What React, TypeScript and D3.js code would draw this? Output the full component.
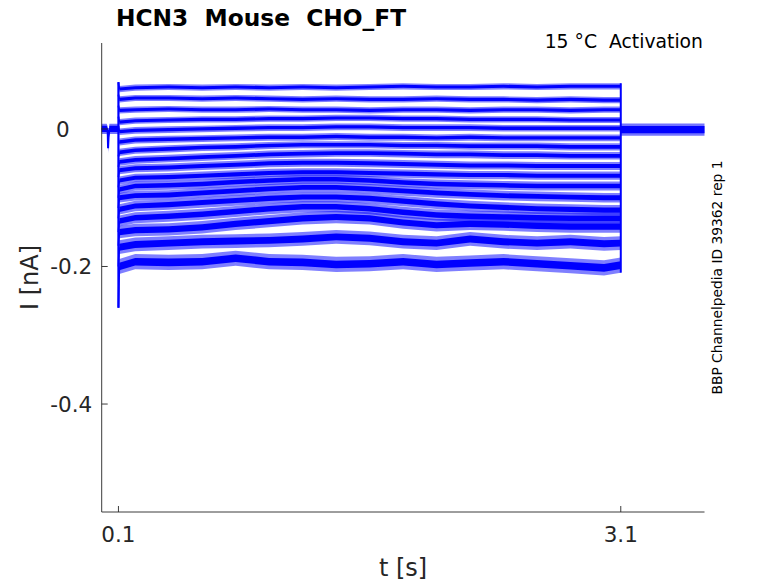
import React from 'react';
import * as d3 from 'd3';

// time knots of the voltage-step section (s)
const stepTimes = [0.105, 0.2, 0.4, 0.6, 0.8, 1.0, 1.2, 1.4, 1.6, 1.8, 2.0, 2.2, 2.4, 2.6, 2.8, 3.0, 3.1];

// current traces during the step (nA), top to bottom
const trace01 = [0.058, 0.060, 0.061, 0.060, 0.061, 0.060, 0.061, 0.060, 0.061, 0.062, 0.061, 0.061, 0.062, 0.061, 0.062, 0.062, 0.062];
const trace02 = [0.043, 0.045, 0.045, 0.044, 0.045, 0.044, 0.043, 0.044, 0.043, 0.043, 0.044, 0.043, 0.043, 0.042, 0.043, 0.042, 0.042];
const trace03 = [0.027, 0.028, 0.029, 0.028, 0.028, 0.029, 0.028, 0.028, 0.027, 0.028, 0.028, 0.027, 0.028, 0.028, 0.027, 0.028, 0.028];
const trace04 = [0.010, 0.012, 0.013, 0.014, 0.014, 0.015, 0.015, 0.016, 0.016, 0.015, 0.015, 0.014, 0.014, 0.014, 0.013, 0.013, 0.013];
const trace05 = [-0.004, -0.002, -0.001, 0.000, 0.001, 0.002, 0.002, 0.003, 0.003, 0.002, 0.002, 0.002, 0.001, 0.001, 0.001, 0.001, 0.001];
const trace06 = [-0.019, -0.016, -0.015, -0.014, -0.013, -0.012, -0.012, -0.011, -0.012, -0.012, -0.013, -0.012, -0.013, -0.013, -0.013, -0.013, -0.013];
const trace07 = [-0.034, -0.031, -0.029, -0.027, -0.026, -0.024, -0.023, -0.023, -0.023, -0.024, -0.024, -0.025, -0.025, -0.025, -0.026, -0.026, -0.026];
const trace08 = [-0.048, -0.045, -0.043, -0.041, -0.039, -0.037, -0.036, -0.035, -0.035, -0.036, -0.037, -0.037, -0.038, -0.038, -0.039, -0.039, -0.039];
const trace09 = [-0.060, -0.057, -0.056, -0.054, -0.052, -0.050, -0.049, -0.049, -0.050, -0.051, -0.052, -0.053, -0.053, -0.054, -0.054, -0.054, -0.054];
const trace10 = [-0.075, -0.071, -0.070, -0.068, -0.066, -0.064, -0.063, -0.063, -0.064, -0.065, -0.066, -0.067, -0.067, -0.068, -0.068, -0.068, -0.068];
const trace11 = [-0.088, -0.083, -0.082, -0.080, -0.077, -0.075, -0.073, -0.073, -0.075, -0.078, -0.080, -0.081, -0.082, -0.083, -0.083, -0.083, -0.083];
const trace12 = [-0.100, -0.097, -0.096, -0.093, -0.090, -0.087, -0.085, -0.085, -0.087, -0.090, -0.093, -0.095, -0.097, -0.098, -0.099, -0.100, -0.100];
const trace13 = [-0.117, -0.112, -0.110, -0.107, -0.104, -0.101, -0.099, -0.099, -0.101, -0.105, -0.109, -0.112, -0.114, -0.116, -0.117, -0.118, -0.118];
const trace14 = [-0.134, -0.129, -0.127, -0.124, -0.120, -0.116, -0.113, -0.113, -0.116, -0.121, -0.125, -0.127, -0.128, -0.129, -0.130, -0.130, -0.130];
const trace15 = [-0.150, -0.147, -0.146, -0.143, -0.138, -0.134, -0.130, -0.128, -0.130, -0.136, -0.140, -0.138, -0.139, -0.141, -0.142, -0.142, -0.142];
const trace16 = [-0.172, -0.168, -0.166, -0.164, -0.163, -0.162, -0.160, -0.157, -0.159, -0.164, -0.166, -0.160, -0.164, -0.166, -0.164, -0.167, -0.166];
const trace17 = [-0.200, -0.193, -0.194, -0.193, -0.188, -0.193, -0.194, -0.197, -0.196, -0.193, -0.197, -0.195, -0.193, -0.196, -0.199, -0.202, -0.198];

const traces = [trace01, trace02, trace03, trace04, trace05, trace06, trace07, trace08, trace09,
  trace10, trace11, trace12, trace13, trace14, trace15, trace16, trace17];

// half width of the full noise extent of each trace (nA)
const noiseAmp = [0.0045, 0.0045, 0.0045, 0.0045, 0.0048, 0.005, 0.0052, 0.0055, 0.0058, 0.006, 0.0065, 0.007, 0.0075, 0.008, 0.009, 0.010, 0.011];
// fraction of that extent that is solid (dense noise core)
const coreFraction = 0.5;

// capacitive transient peak at step onset (nA)
const onsetPeaks = [0.068, 0.050, 0.034, 0.018, 0.004, -0.020, -0.040, -0.055, -0.070, -0.085, -0.100, -0.115, -0.130, -0.150, -0.170, -0.200, -0.260];

// holding current before the step and after it
const preTimes = [0.0, 0.03, 0.036, 0.038, 0.041, 0.046, 0.1];
const preValues = [0.0, 0.0, -0.004, -0.028, -0.012, 0.0, 0.0];
const preAmp = 0.0075;
const postTimes = [3.1, 3.3, 3.45, 3.6];
const postValues = [-0.001, -0.001, -0.001, -0.001];
const postAmp = 0.009;

const xTicks = [0.1, 3.1];
const xTickLabels = ['0.1', '3.1'];
const yTicks = [-0.4, -0.2, 0];
const yTickLabels = ['-0.4', '-0.2', '0'];

const titleText = 'HCN3  Mouse  CHO_FT';
const infoText = '15 °C  Activation';
const sideText = 'BBP Channelpedia ID 39362 rep 1';
const xLabel = 't [s]';
const yLabel = 'I [nA]';

const W = 778;
const H = 583;
const FONT = '"DejaVu Sans", sans-serif';
const BLUE = '#0000ff';
const AXIS = '#262626';

export default function App() {
  const x = d3.scaleLinear().domain([0, 3.6]).range([101.7, 704.5]);
  const y = d3.scaleLinear().domain([-0.557, 0.125]).range([512, 43]);

  const band = (times: number[], amp: number) =>
    d3.area<number>()
      .x((_, i) => x(times[i]))
      .y0((v) => y(v - amp))
      .y1((v) => y(v + amp));

  const line = (times: number[]) =>
    d3.line<number>()
      .x((_, i) => x(times[i]))
      .y((v) => y(v));

  const onsetMax = d3.max(onsetPeaks) as number;
  const onsetMin = d3.min(onsetPeaks) as number;
  const lastVals = traces.map((t) => t[t.length - 1]);
  const endMax = (d3.max(lastVals) as number) + noiseAmp[0];
  const endMin = (d3.min(lastVals) as number) - noiseAmp[noiseAmp.length - 1];

  const x0 = x.range()[0];
  const xEnd = x.range()[1];
  const yBottom = y.range()[0];
  const yTop = y.range()[1];

  return (
    <div style={{ position: 'fixed', left: 0, top: 0 }}>
      <svg width={W} height={H} viewBox={`0 0 ${W} ${H}`} style={{ display: 'block', background: '#fff' }}>
        <g>
          {/* pre-step holding */}
          <path d={band(preTimes, preAmp)(preValues) as string} fill={BLUE} fillOpacity={0.55} />
          <path d={band(preTimes, preAmp * 0.6)(preValues) as string} fill={BLUE} />
          <path d={line(preTimes)(preValues) as string} fill="none" stroke={BLUE} strokeWidth={2} />
          {/* post-step holding */}
          <path d={band(postTimes, postAmp)(postValues) as string} fill={BLUE} fillOpacity={0.55} />
          <path d={band(postTimes, postAmp * 0.6)(postValues) as string} fill={BLUE} />
          {/* onset and offset transients */}
          <line x1={x(0.1)} x2={x(0.1)} y1={y(onsetMax)} y2={y(onsetMin)} stroke={BLUE} strokeWidth={2.2} />
          <line x1={x(3.1)} x2={x(3.1)} y1={y(endMax)} y2={y(endMin)} stroke={BLUE} strokeWidth={2} />
          {traces.map((tr, i) => (
            <path key={'o' + i} d={band(stepTimes, noiseAmp[i])(tr) as string} fill={BLUE} fillOpacity={0.5} />
          ))}
          {traces.map((tr, i) => {
            const first = [onsetPeaks[i], tr[0]];
            return (
              <g key={i}>
                <path d={band(stepTimes, noiseAmp[i] * coreFraction)(tr) as string} fill={BLUE} />
                <path d={line([0.1, stepTimes[0]])(first) as string} fill="none" stroke={BLUE} strokeWidth={1.8} />
              </g>
            );
          })}
        </g>

        {/* axes */}
        <line x1={x0} x2={x0} y1={yTop} y2={yBottom} stroke={AXIS} strokeWidth={0.9} />
        <line x1={x0} x2={xEnd} y1={yBottom} y2={yBottom} stroke={AXIS} strokeWidth={0.9} />
        {yTicks.map((t, i) => (
          <g key={'yt' + i}>
            <line x1={x0} x2={x0 + 6} y1={y(t)} y2={y(t)} stroke={AXIS} strokeWidth={0.9} />
            <text
              x={t === 0 ? x0 - 32 : x0 - 9.5}
              y={y(t)}
              dy="0.36em"
              textAnchor="end"
              fontFamily={FONT}
              fontSize={21.5}
              fill={AXIS}
            >
              {yTickLabels[i]}
            </text>
          </g>
        ))}
        {xTicks.map((t, i) => (
          <g key={'xt' + i}>
            <line x1={x(t)} x2={x(t)} y1={yBottom} y2={yBottom - 6} stroke={AXIS} strokeWidth={0.9} />
            <text x={x(t)} y={542} textAnchor="middle" fontFamily={FONT} fontSize={21.5} fill={AXIS}>
              {xTickLabels[i]}
            </text>
          </g>
        ))}

        <text x={(x0 + xEnd) / 2} y={576} textAnchor="middle" fontFamily={FONT} fontSize={24} fill={AXIS}>
          {xLabel}
        </text>
        <text
          transform={`translate(38, 277.5) rotate(-90)`}
          textAnchor="middle"
          fontFamily={FONT}
          fontSize={24}
          fill={AXIS}
        >
          {yLabel}
        </text>

        <text x={116} y={26} fontFamily={FONT} fontSize={23.3} fontWeight="bold" fill="#000" style={{ whiteSpace: 'pre' }}>
          {titleText}
        </text>
        <text x={703} y={48} textAnchor="end" fontFamily={FONT} fontSize={18.8} fill="#000" style={{ whiteSpace: 'pre' }}>
          {infoText}
        </text>
        <text
          transform={`translate(722, 277.5) rotate(-90)`}
          textAnchor="middle"
          fontFamily={FONT}
          fontSize={13.8}
          fill="#000"
        >
          {sideText}
        </text>
      </svg>
    </div>
  );
}
